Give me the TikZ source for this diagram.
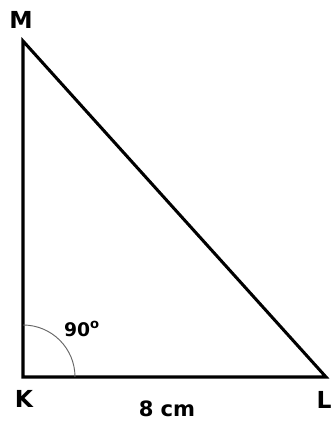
\documentclass[tikz,border=0pt]{standalone}
\usepackage{fontspec}
\setmainfont{DejaVu Sans}
\usetikzlibrary{positioning,calc}
\tikzset{
  side/.style={line width=2.6pt,black,line cap=round,line join=miter},
  vlab/.style={font=\bfseries\fontsize{20}{20}\selectfont,inner sep=0pt},
  rightarc/.style={gray!80!black,line width=0.8pt},
}
\begin{document}
\begin{tikzpicture}[x=0.03cm,y=-0.03cm]
\useasboundingbox (0,0) rectangle (330,421);
\coordinate (k) at (23,377);
\coordinate (l) at (326,377);
\coordinate (m) at (23,41);
\draw[side] (m) -- (k) -- (l) -- cycle;
\draw[rightarc] (75,377) arc[start angle=0,end angle=90,radius=52*0.03cm];
\node[vlab] (mlab) at (21,20) {M};
\node[vlab] (klab) at (24,399) {K};
\node[vlab] (llab) at (324,400) {L};
\node[font=\bfseries\fontsize{16}{16}\selectfont,inner sep=0pt] (ang) at (82,329) {90\textsuperscript{o}};
\node[font=\bfseries\fontsize{18}{18}\selectfont,inner sep=0pt] (len) at (167,409) {8\,\,cm};
\end{tikzpicture}
\end{document}
